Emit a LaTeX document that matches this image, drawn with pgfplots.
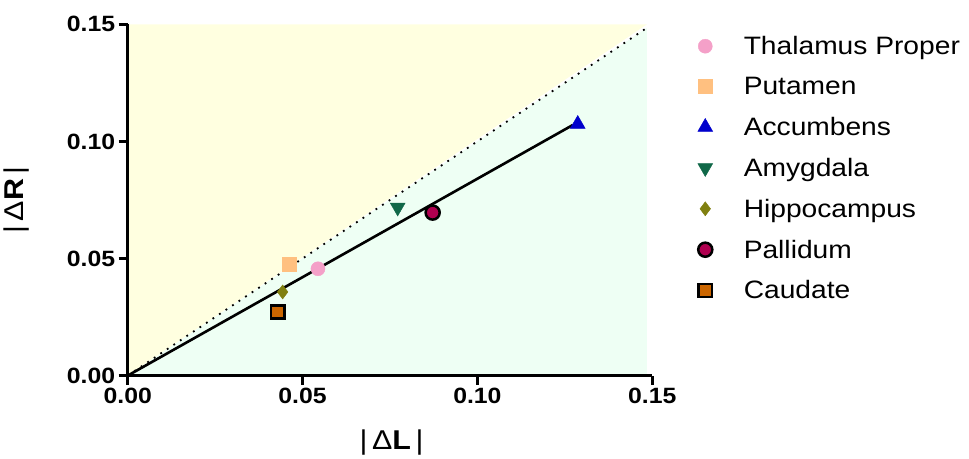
\documentclass[border=0pt]{standalone}
\usepackage{fontspec}
\setmainfont{Liberation Sans}[FakeStretch=1.12]
\usepackage{pgfplots}
\pgfplotsset{compat=1.18}

\definecolor{bgyellow}{RGB}{255,255,224}
\definecolor{bggreen}{RGB}{238,255,244}
\definecolor{thalpink}{RGB}{244,160,200}
\definecolor{putpeach}{RGB}{255,192,128}
\definecolor{accblue}{RGB}{0,0,204}
\definecolor{amygreen}{RGB}{16,104,72}
\definecolor{hipolive}{RGB}{128,128,16}
\definecolor{palred}{RGB}{176,0,80}
\definecolor{caudorange}{RGB}{204,102,0}

\pgfplotsset{
    pt/.style={
        legend image code/.code={\path (0pt,0pt) (48pt,0pt); \draw plot coordinates {(20pt,0pt)};}},
}

\begin{document}
\begin{tikzpicture}
\begin{axis}[
    scale only axis,
    width=521pt,
    height=349pt,
    xmin=0, xmax=0.15,
    ymin=0, ymax=0.15,
    axis x line=bottom,
    axis y line=left,
    axis line style={line width=2.6pt, -},
    axis on top=true,
    xtick={0,0.05,0.1,0.15},
    ytick={0,0.05,0.1,0.15},
    tick align=outside,
    major tick length=9pt,
    every tick/.style={black, line width=2.6pt},
    scaled ticks=false,
    xticklabel style={/pgf/number format/fixed, /pgf/number format/precision=2, /pgf/number format/fixed zerofill},
    yticklabel style={/pgf/number format/fixed, /pgf/number format/precision=2, /pgf/number format/fixed zerofill},
    /pgf/number format/assume math mode=true,
    tick label style={font=\bfseries\fontsize{22}{26}\selectfont},
    xlabel={|\,Δ\textbf{L}\,|},
    ylabel={|\,Δ\textbf{R}\,|},
    label style={font=\fontsize{27}{32}\selectfont},
    xlabel style={at={(axis description cs:0.503,-0.19)}, anchor=center},
    ylabel style={at={(axis description cs:-0.213,0.5)}, anchor=center},
    legend style={at={(axis description cs:1.060,0.972)}, anchor=north west,
        draw=none, fill=none, inner sep=0pt,
        nodes={inner sep=9pt, inner ysep=2pt},
        font=\fontsize{25}{30}\selectfont, row sep=17pt},
    legend cell align=left,
    clip=false,
]
% background regions
\addplot[draw=none, fill=bgyellow, forget plot] coordinates {(0,0) (0,0.15) (0.1485,0.15) (0,0)};
\addplot[draw=none, fill=bggreen, forget plot] coordinates {(0,0) (0.1485,0) (0.1485,0.1485) (0,0)};
% identity line and fit
\addplot[black, line width=1.8pt, dash pattern=on 1.8pt off 6pt, forget plot] coordinates {(0,0) (0.149,0.149)};
\addplot[black, line width=2.6pt, forget plot] coordinates {(0,0) (0.1273,0.107)};

\addplot[pt, mark=*, mark size=7pt, draw=thalpink, fill=thalpink] coordinates {(0.0544,0.0456)};
\addlegendentry{Thalamus Proper}
\addplot[pt, mark=square*, mark size=7pt, draw=putpeach, fill=putpeach] coordinates {(0.0461,0.0477)};
\addlegendentry{Putamen}
\addplot[pt, mark=triangle*, mark size=8.5pt, draw=accblue, fill=accblue] coordinates {(0.1287,0.1074)};
\addlegendentry{Accumbens}
\addplot[pt, mark=triangle*, mark options={rotate=180}, mark size=8.5pt, draw=amygreen, fill=amygreen] coordinates {(0.0772,0.0718)};
\addlegendentry{Amygdala}
\addplot[pt, mark=diamond*, mark size=7pt, draw=hipolive, fill=hipolive] coordinates {(0.0443,0.0357)};
\addlegendentry{Hippocampus}
\addplot[pt, mark=*, mark size=7pt, line width=2.5pt, draw=black, fill=palred] coordinates {(0.0872,0.0696)};
\addlegendentry{Pallidum}
\addplot[pt, mark=square*, mark size=6.5pt, line width=2.5pt, draw=black, fill=caudorange] coordinates {(0.0429,0.0271)};
\addlegendentry{Caudate}
\end{axis}
\path ([yshift=13pt]current bounding box.north);
\end{tikzpicture}
\end{document}
